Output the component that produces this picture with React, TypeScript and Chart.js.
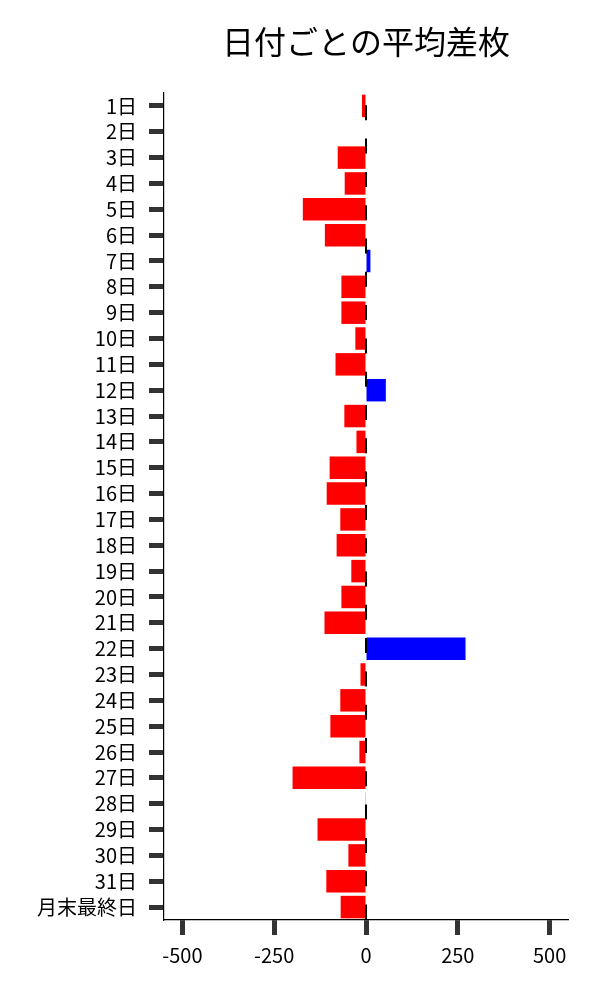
import React, { useEffect, useRef } from "react";
import Chart from "chart.js/auto";

const days = [
  "1日", "2日", "3日", "4日", "5日", "6日", "7日", "8日", "9日", "10日",
  "11日", "12日", "13日", "14日", "15日", "16日", "17日", "18日", "19日", "20日",
  "21日", "22日", "23日", "24日", "25日", "26日", "27日", "28日", "29日", "30日",
  "31日", "月末最終日",
];

const avgDiff = [
  -11, 0, -77, -58, -172, -112, 12, -67, -67, -29,
  -83, 54, -59, -26, -99, -107, -70, -80, -40, -67,
  -113, 271, -15, -70, -97, -18, -200, -2, -132, -48,
  -108, -69,
];

const xTicks = [-500, -250, 0, 250, 500];

const FONT = "'Noto Sans CJK JP', 'Noto Sans', sans-serif";

// dashed line at x = 0 plus a title centred over the plot area
const overlay = {
  id: "overlay",
  afterDatasetsDraw(chart: any) {
    const { ctx, chartArea, scales } = chart;
    const x0 = scales.x.getPixelForValue(0);
    ctx.save();
    ctx.strokeStyle = "#000";
    ctx.lineWidth = 2;
    ctx.setLineDash([15, 18.3]);
    ctx.lineDashOffset = 21;
    ctx.beginPath();
    ctx.moveTo(x0, chartArea.top);
    ctx.lineTo(x0, chartArea.bottom);
    ctx.stroke();
    ctx.restore();
  },
  afterDraw(chart: any) {
    const { ctx, chartArea } = chart;
    ctx.save();
    ctx.fillStyle = "#000";
    ctx.font = `32px ${FONT}`;
    ctx.textAlign = "center";
    ctx.textBaseline = "middle";
    ctx.fillText("日付ごとの平均差枚", (chartArea.left + chartArea.right) / 2, 34);
    ctx.restore();
  },
};

const App = () => {
  const chartRef = useRef<HTMLCanvasElement | null>(null);

  useEffect(() => {
    if (!chartRef.current) return;
    const ctx = chartRef.current.getContext("2d");
    if (!ctx) return;

    const chart = new Chart(ctx, {
      type: "bar",
      data: {
        labels: days,
        datasets: [
          {
            data: avgDiff,
            backgroundColor: avgDiff.map((v) => (v >= 0 ? "#0000ff" : "#ff0000")),
            categoryPercentage: 1,
            barPercentage: 0.87,
          },
        ],
      },
      options: {
        indexAxis: "y",
        animation: false,
        responsive: true,
        maintainAspectRatio: false,
        layout: { padding: { top: 85, right: 24, left: 0, bottom: 0 } },
        plugins: {
          legend: { display: false },
          title: { display: false },
          tooltip: { enabled: false },
        },
        scales: {
          x: {
            min: -550,
            max: 550,
            afterBuildTicks: (scale: any) => {
              scale.ticks = xTicks.map((v) => ({ value: v }));
            },
            afterFit: (scale: any) => {
              scale.height = 72;
            },
            grid: {
              drawOnChartArea: false,
              drawTicks: true,
              tickLength: 15,
              tickWidth: 5,
              tickColor: "#333",
            },
            border: { display: true, color: "#000", width: 1.2 },
            ticks: {
              color: "#000",
              padding: 8,
              font: { family: FONT, size: 20 },
            },
          },
          y: {
            afterFit: (scale: any) => {
              scale.width = 156;
            },
            grid: {
              offset: false,
              drawOnChartArea: false,
              drawTicks: true,
              tickLength: 15,
              tickWidth: 5,
              tickColor: "#333",
            },
            border: { display: true, color: "#000", width: 1.2 },
            ticks: {
              color: "#000",
              padding: 12,
              autoSkip: false,
              font: { family: FONT, size: 20 },
            },
          },
        },
      },
      plugins: [overlay],
    });

    return () => {
      chart.destroy();
    };
  }, []);

  return (
    <div style={{ width: 584, height: 984 }}>
      <canvas ref={chartRef} />
    </div>
  );
};

export default App;
